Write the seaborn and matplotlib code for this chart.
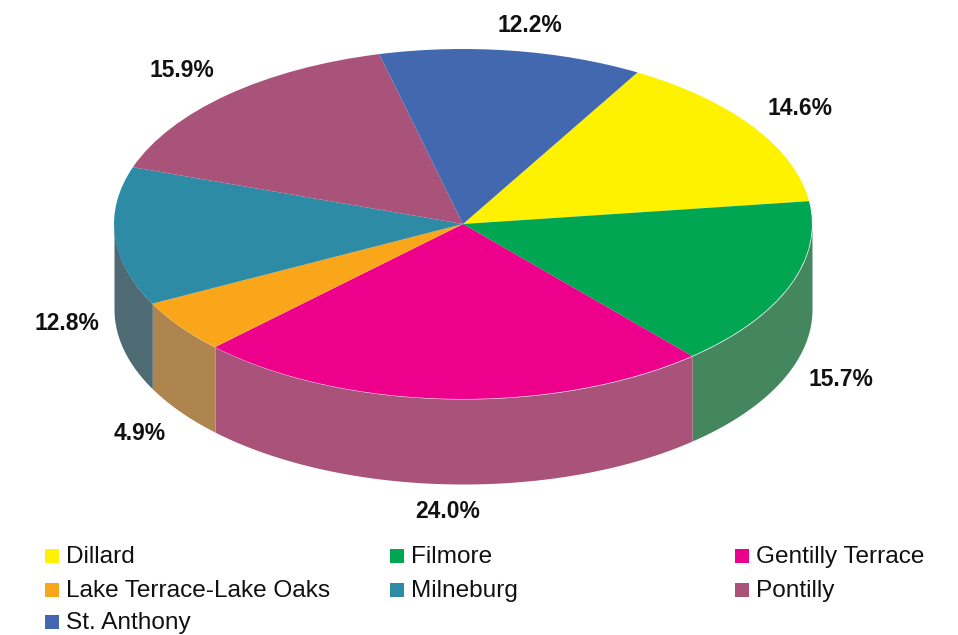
import matplotlib
matplotlib.use('Agg')
import matplotlib.pyplot as plt
import numpy as np
import seaborn as sns

names = ['Dillard', 'Filmore', 'Gentilly Terrace', 'Lake Terrace-Lake Oaks', 'Milneburg', 'Pontilly', 'St. Anthony']
shares = [14.6, 15.7, 24.0, 4.9, 12.8, 15.9, 12.2]
top_colors = ['#FFF200', '#00A651', '#EC008C', '#FAA61A', '#2E8BA5', '#A9527A', '#4268B0']
side_colors = ['#C4BB30', '#44875E', '#A9527A', '#AE844F', '#4E6A72', '#7A4560', '#3A5488']

# pixel layout of the reference
cx, cy, rx, ry, depth = 463, 224, 349, 175, 85
label_px = [(800, 108), (841, 380), (448, 512), (140, 433), (67, 323), (182, 70), (530, 25)]
legend_px = [(52, 556), (397, 556), (742, 556), (52, 590), (397, 590), (742, 590), (52, 622)]
start = 60


def to_data(px, py):
    return (px - cx) / rx, (cy - py) / ry


sns.set_style('white')
plt.rcParams['font.family'] = ['Liberation Sans', 'DejaVu Sans']

fig = plt.figure(figsize=(9.58, 6.35), dpi=100)
ax = fig.add_axes([0, 0, 1, 1])

# side wall first, only the part that faces the viewer
fracs = np.array(shares) / sum(shares)
edges = start - 360 * np.concatenate([[0], np.cumsum(fracs)])
for i, col in enumerate(sns.color_palette(side_colors)):
    a = np.linspace(edges[i], edges[i + 1], 200)
    a = a[np.sin(np.radians(a)) <= 0]
    if len(a) == 0:
        continue
    xs = np.cos(np.radians(a))
    ys = np.sin(np.radians(a))
    ax.fill_between(xs, ys, ys - depth / ry, color=col, lw=0, zorder=1)

wedges, _ = ax.pie(shares, colors=sns.color_palette(top_colors), startangle=start,
                   counterclock=False, radius=1, wedgeprops={'linewidth': 0, 'zorder': 2})

ax.set_aspect('auto')
ax.set_xlim(to_data(0, 0)[0], to_data(958, 0)[0])
ax.set_ylim(to_data(0, 635)[1], to_data(0, 0)[1])
ax.axis('off')

for share, (px, py) in zip(shares, label_px):
    x, y = to_data(px, py)
    ax.text(x, y, f'{share:.1f}%', fontsize=16.5, fontweight='bold', ha='center', va='center', color='#111111', zorder=5)

# legend by hand, the columns are evenly spaced in the original
for name, col, (px, py) in zip(names, sns.color_palette(top_colors), legend_px):
    x, y = to_data(px, py)
    ax.scatter([x], [y], marker='s', s=115, color=[col], linewidths=0, zorder=5)
    x, y = to_data(px + 14, py + 1)
    ax.text(x, y, name, fontsize=17.6, ha='left', va='center', color='#111111', zorder=5)

fig.savefig('out.png', dpi=100)
